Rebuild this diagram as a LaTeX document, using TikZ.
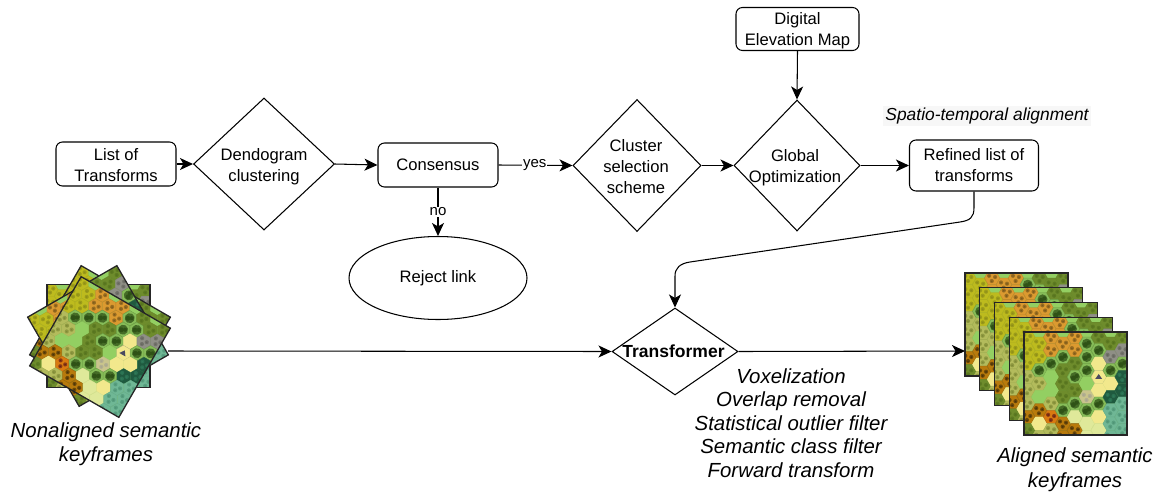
\documentclass[tikz,border=0pt]{standalone}
\usepackage{fontspec}
\setmainfont{Liberation Sans}
\usetikzlibrary{shapes.geometric,arrows.meta,calc}
\definecolor{hC}{HTML}{BDBB1E}\definecolor{hO}{HTML}{DB9A30}\definecolor{hF}{HTML}{86BC58}
\definecolor{hL}{HTML}{93CF62}\definecolor{hM}{HTML}{6E8C2C}\definecolor{hS}{HTML}{B3BB5C}
\definecolor{hB}{HTML}{B87A0C}\definecolor{hR}{HTML}{D97A10}\definecolor{hY}{HTML}{F2E88C}
\definecolor{hP}{HTML}{DFE99A}\definecolor{hW}{HTML}{C9C48C}\definecolor{hG}{HTML}{8F8F86}
\definecolor{hD}{HTML}{1F5A3F}\definecolor{hT}{HTML}{6FB795}\definecolor{hV}{HTML}{F2E88C}
\definecolor{dC}{HTML}{8E8E18}\definecolor{dO}{HTML}{7D5A1A}\definecolor{dF}{HTML}{2F5216}
\definecolor{dL}{HTML}{93CF62}\definecolor{dM}{HTML}{55731E}\definecolor{dS}{HTML}{7F8A36}
\definecolor{dB}{HTML}{4A3208}\definecolor{dR}{HTML}{6A2015}\definecolor{dY}{HTML}{F2E88C}
\definecolor{dP}{HTML}{CBD684}\definecolor{dW}{HTML}{A9A690}\definecolor{dG}{HTML}{66665E}
\definecolor{dD}{HTML}{2F7A58}\definecolor{dT}{HTML}{4F9476}\definecolor{dV}{HTML}{4A4A60}
\def\kY{Y}\def\kL{L}\def\kV{V}\def\kF{F}\def\kP{P}
\newcommand{\hexmap}{%
  {C,C,C,S,S,S,B,M},{C,C,F,S,L,B,Y,S},{O,O,F,L,L,S,R,S},{O,F,M,M,M,F,B,B},
  {O,O,M,F,M,F,P,B},{F,F,F,L,W,F,P,P},{M,F,Y,V,Y,F,Y,P},{M,G,F,Y,D,T,T,T},{M,G,F,D,D,T,T,T}}
\newcommand{\maptile}[3]{%
  \begin{scope}[shift={(#1,#2)},rotate=#3]
    \begin{scope}
      \clip (-51.5,-51.5) rectangle (51.5,51.5);
      \fill[hL] (-51.5,-51.5) rectangle (51.5,51.5);
      \foreach \colstr [count=\cc from 0] in \hexmap {
        \pgfmathsetmacro{\hx}{-48.2+11.9*\cc}
        \pgfmathsetmacro{\hy}{-46.5+6.67*mod(\cc,2)}
        \foreach \k [count=\rr from 0] in \colstr {
          \pgfmathsetmacro{\hyy}{\hy+13.33*\rr}
          \fill[h\k,draw=d\k!35!h\k,line width=.3pt] (\hx,\hyy) ++(-7.7,0) -- ++(3.85,-6.67) -- ++(7.7,0) -- ++(3.85,6.67) -- ++(-3.85,6.67) -- ++(-7.7,0) -- cycle;
          \ifx\k\kY\else\ifx\k\kL\else\ifx\k\kP\else\ifx\k\kV
            \fill[dV] (\hx-3.5,\hyy+2) -- (\hx,\hyy-3) -- (\hx+3.5,\hyy+2) -- cycle;
          \else\ifx\k\kF
            \fill[dF!75!hF] (\hx,\hyy) circle (5);
            \fill[dF] (\hx-1.5,\hyy+1) circle (2.5) (\hx+1.8,\hyy-1) circle (2.1);
          \else
            \fill[d\k!70!h\k] (\hx-3,\hyy-2.2) circle (2.1) (\hx+3,\hyy-1) circle (2.1) (\hx-.3,\hyy+3) circle (2.1);
            \fill[d\k] (\hx-3,\hyy-2) circle (.9) (\hx+3,\hyy-.8) circle (.9) (\hx-.3,\hyy+3.2) circle (.9);
          \fi\fi\fi\fi\fi
        }
      }
    \end{scope}
    \draw[black!85,line width=1.3pt] (-51.5,-51.5) rectangle (51.5,51.5);
  \end{scope}}
\newcommand{\pushdown}{\rule{0pt}{15pt}}
\tikzset{
  flowbox/.style={draw,rounded corners=6.5pt,line width=1.05pt,align=center,inner sep=0pt,font=\fontsize{16.6}{21}\selectfont},
  dia/.style={draw,diamond,line width=1.05pt,inner sep=0pt,aspect=1},
  txt/.style={align=center,inner sep=0pt,font=\fontsize{16.6}{20.6}\selectfont},
  capt/.style={align=center,inner sep=0pt,font=\fontsize{20.4}{23.6}\selectfont\itshape},
  link/.style={line width=1.05pt,-{Stealth[length=13pt,width=12pt,inset=3.5pt]}},
  edgelab/.style={fill=white,inner sep=1pt,font=\fontsize{15}{17}\selectfont}
}
\begin{document}
\begin{tikzpicture}[x=1pt,y=-1pt]
\useasboundingbox (0,0) rectangle (1161,493);
% nodes
\node[flowbox,minimum width=120pt,minimum height=44pt] (list) at (116,164) {\pushdown List of\\Transforms};
\node[dia,minimum width=141pt,minimum height=132pt] (dendo) at (264,164) {};
\node[txt] at (264,166.5) {Dendogram\\clustering};
\node[flowbox,minimum width=120pt,minimum height=44pt] (cons) at (438,165) {Consensus};
\node[dia,minimum width=128pt,minimum height=132pt] (clus) at (637,165.5) {};
\node[txt] at (636,166.5) {Cluster\\selection\\scheme};
\node[dia,minimum width=126pt,minimum height=131pt] (glob) at (797,165.5) {};
\node[txt] at (795,168) {Global\\Optimization};
\node[flowbox,minimum width=129pt,minimum height=51pt] (refi) at (974,165.5) {Refined list of\\transforms};
\node[flowbox,minimum width=123pt,minimum height=43pt] (dem) at (797.5,29) {\pushdown Digital\\Elevation Map};
\node[draw,ellipse,line width=1.05pt,minimum width=178pt,minimum height=83pt,inner sep=0pt,font=\fontsize{16.6}{21}\selectfont] (rej) at (438,278) {Reject link};
\node[dia,minimum width=126pt,minimum height=87pt] (trans) at (675,351.5) {};
\node[txt,font=\fontsize{17.5}{20}\selectfont\bfseries] at (673.5,351.5) {Transformer};
\node[fill=black!3,inner sep=2pt,font=\fontsize{17.4}{20}\selectfont\itshape] (spatio) at (987,116) {Spatio-temporal alignment};
\node[capt] (voxl) at (791,423) {Voxelization\\Overlap removal\\Statistical outlier filter\\Semantic class filter\\Forward transform};
\node[capt] (nonal) at (106,444.5) {Nonaligned semantic\\keyframes};
\node[capt,font=\fontsize{20.4}{24.8}\selectfont\itshape] (alig) at (1075,470) {Aligned semantic\\keyframes};
\coordinate (leftend) at (168,351);
\coordinate (rightend) at (965,351);
% connectors
\draw[link] (list.east) -- (dendo.west);
\draw[link] (dendo.east) -- (cons.west);
\draw[link] (cons.east) -- node[edgelab,pos=.49]{yes} (clus.west);
\draw[link] (cons.south) -- node[edgelab,pos=.5]{no} (rej.north);
\draw[link,line width=1.6pt] (clus.east) -- (glob.west);
\draw[link] (glob.east) -- (refi.west);
\draw[line width=1.7pt] ($(glob.east)!.4!(refi.west)$) -- ($(glob.east)!.68!(refi.west)$);
\draw[link] (dem.south) -- (glob.north);
\draw[link] (refi.south) -- ++(0,16) .. controls ++(0,10) and (970,220.5) .. (960,222) -- (690,262) .. controls (680,263.5) and (675,268) .. (675,276) -- (trans.north);
\draw[link] (leftend) -- (trans.west);
\draw[link] (trans.east) -- (rightend);
% left stack of keyframes
\maptile{98.5}{336}{0}
\maptile{100}{336}{-30}
\maptile{98}{336}{30}
\maptile{100}{347}{-30}
% right stack of keyframes
\maptile{1016.5}{324.5}{0}
\maptile{1031.2}{339.2}{0}
\maptile{1046}{354}{0}
\maptile{1060.7}{368.7}{0}
\maptile{1075.5}{383.5}{0}
\end{tikzpicture}
\end{document}
